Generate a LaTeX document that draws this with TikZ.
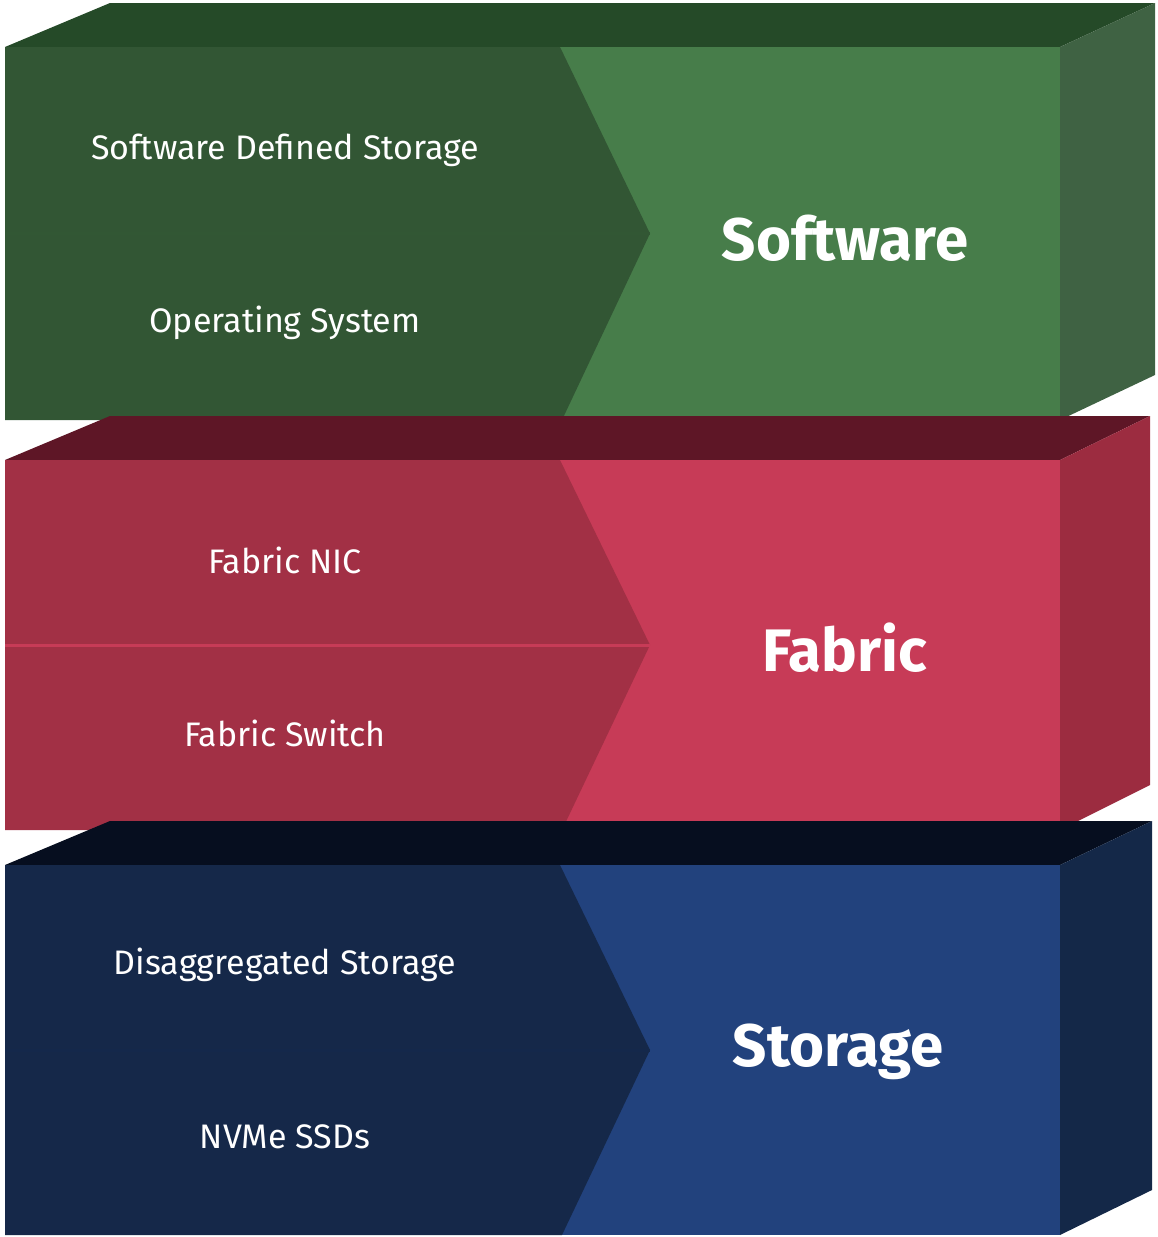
\documentclass[tikz,border=0pt]{standalone}
\usepackage{fontspec}
\setmainfont{Fira Sans}
\definecolor{gL}{HTML}{477D4A}\definecolor{gD}{HTML}{325634}\definecolor{gT}{HTML}{254A28}\definecolor{gS}{HTML}{3F6243}
\definecolor{rL}{HTML}{C73B57}\definecolor{rD}{HTML}{A23045}\definecolor{rT}{HTML}{5E1626}\definecolor{rS}{HTML}{9C2C40}
\definecolor{bL}{HTML}{22427D}\definecolor{bD}{HTML}{152849}\definecolor{bT}{HTML}{060E1F}\definecolor{bS}{HTML}{142848}
\tikzset{lbl/.style={text=white,font=\fontsize{34}{40}\selectfont},
ttl/.style={text=white,font=\fontsize{60}{70}\selectfont\bfseries}}
\newcommand{\layer}[8]{% top y, bottom y, backx, light, dark, topc, side, divider col
 \fill[#6] (5,#1) -- (110,#1-44) -- (#3,#1-44) -- (1060,#1) -- cycle;
 \fill[#7] (1060,#1) -- (#3,#1-44) -- (#3,#2-45) -- (1060,#2) -- cycle;
 \fill[#4] (5,#1) rectangle (1060,#2);
 \fill[#5] (5,#1) -- (560,#1) -- (650,{(#1+#2)/2}) -- (562,#2) -- (5,#2) -- cycle;
 \draw[#8,line width=3pt] (5,{(#1+#2)/2}) -- (650,{(#1+#2)/2});
}
\begin{document}
\begin{tikzpicture}[x=1pt,y=-1pt]
\useasboundingbox (0,0) rectangle (1157,1237);
\layer{47}{420}{1155}{gL}{gD}{gT}{gS}{gL!70!black}
\layer{460}{830}{1150}{rL}{rD}{rT}{rS}{rL}
\layer{865}{1235}{1152}{bL}{bD}{bT}{bS}{bL!60!black}
\node[lbl] (a) at (285,150) {Software Defined Storage};
\node[lbl] (b) at (285,323) {Operating System};
\node[ttl] (c) at (845,238) {Software};
\node[lbl] (d) at (285,560) {Fabric NIC};
\node[lbl] (e) at (285,733) {Fabric Switch};
\node[ttl] (f) at (845,648) {Fabric};
\node[lbl] (g) at (285,965) {Disaggregated Storage};
\node[lbl] (h) at (285,1137) {NVMe SSDs};
\node[ttl] (i) at (838,1052) {Storage};
\end{tikzpicture}
\end{document}
